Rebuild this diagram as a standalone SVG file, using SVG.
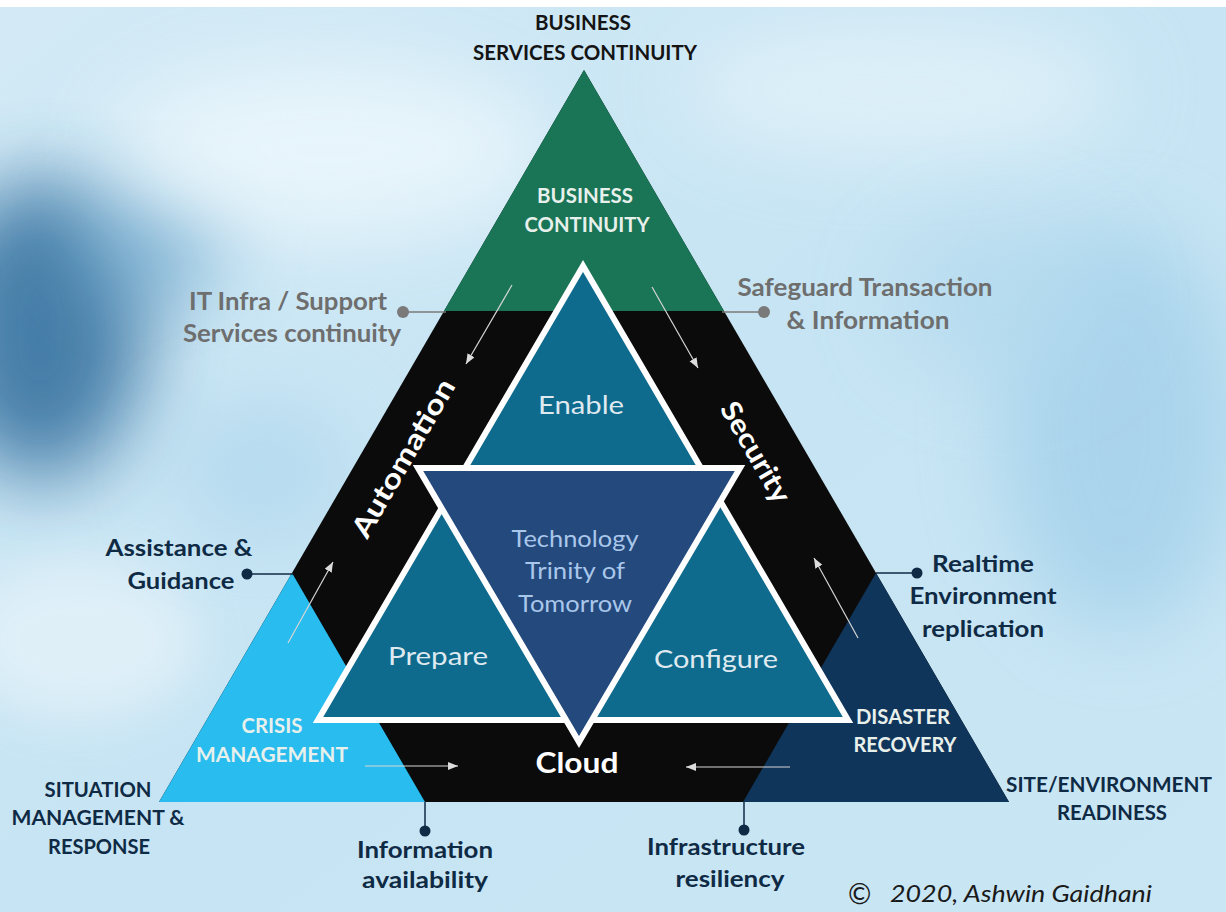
<svg xmlns="http://www.w3.org/2000/svg" width="1226" height="912" viewBox="0 0 1226 912">
  <defs>
    <linearGradient id="bgGrad" x1="0" y1="0" x2="1" y2="1">
      <stop offset="0" stop-color="#d3eaf6"/>
      <stop offset="0.5" stop-color="#c6e4f3"/>
      <stop offset="1" stop-color="#c9e6f4"/>
    </linearGradient>
    <filter id="soft" x="-50%" y="-50%" width="200%" height="200%">
      <feGaussianBlur stdDeviation="40"/>
    </filter>
    <filter id="softer" x="-50%" y="-50%" width="200%" height="200%">
      <feGaussianBlur stdDeviation="25"/>
    </filter>
    <marker id="arrowHead" markerUnits="userSpaceOnUse" markerWidth="12" markerHeight="10" refX="10" refY="4" orient="auto">
      <path d="M0,0 L10,4 L0,8 z" fill="#dcdcdc"/>
    </marker>
    <style>
      text { font-family: Lato, "Liberation Sans", sans-serif; }
      .lbl { font-weight: 700; text-anchor: middle; }
      .dark { fill: #0f2a44; }
      .black { fill: #141414; }
      .gray { fill: #6e6e6e; }
      .onfill { fill: #e8f0ec; }
      .band { fill: #ffffff; font-weight: 700; text-anchor: middle; }
      .inner { fill: #dfe9f0; font-weight: 400; text-anchor: middle; font-size: 25px; }
      .core { fill: #a9c7ea; font-weight: 400; text-anchor: middle; font-size: 23px; }
      .flow { stroke: #d6d6d6; stroke-width: 1.2; fill: none; marker-end: url(#arrowHead); }
      .lead { stroke-width: 1.5; fill: none; }
      .outline { stroke: #ffffff; stroke-width: 6; stroke-linejoin: miter; }
    </style>
  </defs>

  <!-- soft blue backdrop -->
  <g id="background">
    <rect x="0" y="0" width="1226" height="912" fill="url(#bgGrad)"/>
    <ellipse cx="40" cy="330" rx="105" ry="150" fill="#2e6c9b" opacity="0.85" filter="url(#soft)"/>
    <ellipse cx="150" cy="240" rx="80" ry="60" fill="#6ea7cc" opacity="0.7" filter="url(#soft)"/>
    <ellipse cx="330" cy="150" rx="220" ry="90" fill="#eef8fd" opacity="0.8" filter="url(#soft)"/>
    <ellipse cx="900" cy="90" rx="220" ry="70" fill="#e6f4fb" opacity="0.7" filter="url(#soft)"/>
    <ellipse cx="1120" cy="430" rx="120" ry="200" fill="#a3d0ea" opacity="0.8" filter="url(#soft)"/>
    <ellipse cx="1000" cy="300" rx="110" ry="80" fill="#b2d9ee" opacity="0.7" filter="url(#soft)"/>
    <ellipse cx="80" cy="640" rx="120" ry="80" fill="#e4f2f9" opacity="0.8" filter="url(#softer)"/>
    <ellipse cx="260" cy="470" rx="90" ry="70" fill="#a9d3ec" opacity="0.6" filter="url(#soft)"/>
    <rect x="0" y="0" width="1226" height="7" fill="#ffffff"/>
  </g>

  <!-- outer pyramid and its three corner sections -->
  <g id="pyramid">
    <polygon points="584,70 159,802 1009,802" fill="#0b0b0b"/>
  </g>
  <g id="business-continuity">
    <polygon points="584,70 444,311 724,311" fill="#1a7556"/>
    <text class="lbl onfill" x="585" y="203" font-size="20" textLength="96" lengthAdjust="spacingAndGlyphs">BUSINESS</text>
    <text class="lbl onfill" x="587" y="232" font-size="20" textLength="125" lengthAdjust="spacingAndGlyphs">CONTINUITY</text>
  </g>
  <g id="crisis-management">
    <polygon points="159,802 425,802 292,573" fill="#29bcef"/>
    <text class="lbl onfill" x="272" y="733" font-size="21" textLength="61" lengthAdjust="spacingAndGlyphs">CRISIS</text>
    <text class="lbl onfill" x="272" y="762" font-size="21" textLength="152" lengthAdjust="spacingAndGlyphs">MANAGEMENT</text>
  </g>
  <g id="disaster-recovery">
    <polygon points="743,802 1009,802 876,573" fill="#10355a"/>
    <text class="lbl onfill" x="903" y="724" font-size="21" textLength="94" lengthAdjust="spacingAndGlyphs">DISASTER</text>
    <text class="lbl onfill" x="905" y="752" font-size="21" textLength="103" lengthAdjust="spacingAndGlyphs">RECOVERY</text>
  </g>

  <!-- band labels -->
  <g id="automation">
    <text class="band" transform="translate(403,458) rotate(-60)" y="10" font-size="28" textLength="178" lengthAdjust="spacingAndGlyphs">Automation</text>
  </g>
  <g id="security">
    <text class="band" transform="translate(756,452) rotate(60)" y="10" font-size="28" textLength="112" lengthAdjust="spacingAndGlyphs">Security</text>
  </g>
  <g id="cloud">
    <text class="band" x="577" y="773" font-size="29" textLength="83" lengthAdjust="spacingAndGlyphs">Cloud</text>
  </g>

  <!-- inner triangle: Enable / Prepare / Configure -->
  <g id="inner-triangle">
    <polygon class="outline" points="583,266 318,720 848,720" fill="#0f6b8d"/>
  </g>
  <g id="enable">
    <text class="inner" x="581" y="414" textLength="86" lengthAdjust="spacingAndGlyphs">Enable</text>
  </g>
  <g id="prepare">
    <text class="inner" x="438" y="665" textLength="100" lengthAdjust="spacingAndGlyphs">Prepare</text>
  </g>
  <g id="configure">
    <text class="inner" x="716" y="668" textLength="124" lengthAdjust="spacingAndGlyphs">Configure</text>
  </g>
  <g id="technology-trinity">
    <polygon class="outline" points="418,468 740,468 579,742" fill="#24497d"/>
    <text class="core" x="575" y="547" textLength="127" lengthAdjust="spacingAndGlyphs">Technology</text>
    <text class="core" x="575" y="579" textLength="100" lengthAdjust="spacingAndGlyphs">Trinity of</text>
    <text class="core" x="575" y="612" textLength="114" lengthAdjust="spacingAndGlyphs">Tomorrow</text>
  </g>

  <!-- flow arrows and leader lines -->
  <g id="connectors">
    <line class="flow" x1="512" y1="285" x2="466" y2="364"/>
    <line class="flow" x1="652" y1="287" x2="698" y2="368"/>
    <line class="flow" x1="288" y1="643" x2="333" y2="562"/>
    <line class="flow" x1="858" y1="638" x2="814" y2="558"/>
    <line class="flow" x1="365" y1="766" x2="458" y2="766"/>
    <line class="flow" x1="790" y1="767" x2="686" y2="767"/>

    <line class="lead" x1="403" y1="312" x2="446" y2="312" stroke="#7a7a7a"/>
    <circle cx="403" cy="312" r="6" fill="#7a7a7a"/>
    <line class="lead" x1="722" y1="312" x2="764" y2="312" stroke="#7a7a7a"/>
    <circle cx="764" cy="312" r="6" fill="#7a7a7a"/>
    <line class="lead" x1="247" y1="574" x2="293" y2="574" stroke="#0f2a44"/>
    <circle cx="247" cy="574" r="5.5" fill="#0f2a44"/>
    <line class="lead" x1="876" y1="573" x2="917" y2="573" stroke="#0f2a44"/>
    <circle cx="917" cy="573" r="5.5" fill="#0f2a44"/>
    <line class="lead" x1="425" y1="802" x2="425" y2="831" stroke="#0f2a44"/>
    <circle cx="425" cy="831" r="5.5" fill="#0f2a44"/>
    <line class="lead" x1="744" y1="802" x2="744" y2="830" stroke="#0f2a44"/>
    <circle cx="744" cy="830" r="5.5" fill="#0f2a44"/>
  </g>

  <!-- outside labels -->
  <g id="label-business-services">
    <text class="lbl black" x="583" y="30" font-size="21" textLength="96" lengthAdjust="spacingAndGlyphs">BUSINESS</text>
    <text class="lbl black" x="585" y="60" font-size="21" textLength="224" lengthAdjust="spacingAndGlyphs">SERVICES CONTINUITY</text>
  </g>
  <g id="label-it-infra">
    <text class="lbl gray" x="288" y="310" font-size="24" textLength="198" lengthAdjust="spacingAndGlyphs">IT Infra / Support</text>
    <text class="lbl gray" x="292" y="342" font-size="24" textLength="218" lengthAdjust="spacingAndGlyphs">Services continuity</text>
  </g>
  <g id="label-safeguard">
    <text class="lbl gray" x="865" y="296" font-size="24" textLength="255" lengthAdjust="spacingAndGlyphs">Safeguard Transaction</text>
    <text class="lbl gray" x="868" y="329" font-size="24" textLength="163" lengthAdjust="spacingAndGlyphs">&amp; Information</text>
  </g>
  <g id="label-assistance">
    <text class="lbl dark" x="179" y="556" font-size="22" textLength="147" lengthAdjust="spacingAndGlyphs">Assistance &amp;</text>
    <text class="lbl dark" x="181" y="589" font-size="22" textLength="107" lengthAdjust="spacingAndGlyphs">Guidance</text>
  </g>
  <g id="label-realtime">
    <text class="lbl dark" x="983" y="572" font-size="22" textLength="102" lengthAdjust="spacingAndGlyphs">Realtime</text>
    <text class="lbl dark" x="983" y="604" font-size="22" textLength="147" lengthAdjust="spacingAndGlyphs">Environment</text>
    <text class="lbl dark" x="983" y="637" font-size="22" textLength="122" lengthAdjust="spacingAndGlyphs">replication</text>
  </g>
  <g id="label-situation">
    <text class="lbl dark" x="98" y="797" font-size="21" textLength="107" lengthAdjust="spacingAndGlyphs">SITUATION</text>
    <text class="lbl dark" x="98" y="825" font-size="21" textLength="173" lengthAdjust="spacingAndGlyphs">MANAGEMENT &amp;</text>
    <text class="lbl dark" x="99" y="854" font-size="21" textLength="102" lengthAdjust="spacingAndGlyphs">RESPONSE</text>
  </g>
  <g id="label-site-readiness">
    <text class="lbl dark" x="1109" y="792" font-size="21" textLength="206" lengthAdjust="spacingAndGlyphs">SITE/ENVIRONMENT</text>
    <text class="lbl dark" x="1112" y="820" font-size="21" textLength="110" lengthAdjust="spacingAndGlyphs">READINESS</text>
  </g>
  <g id="label-information">
    <text class="lbl dark" x="425" y="858" font-size="23" textLength="136" lengthAdjust="spacingAndGlyphs">Information</text>
    <text class="lbl dark" x="425" y="888" font-size="23" textLength="126" lengthAdjust="spacingAndGlyphs">availability</text>
  </g>
  <g id="label-infrastructure">
    <text class="lbl dark" x="726" y="855" font-size="23" textLength="158" lengthAdjust="spacingAndGlyphs">Infrastructure</text>
    <text class="lbl dark" x="730" y="887" font-size="23" textLength="109" lengthAdjust="spacingAndGlyphs">resiliency</text>
  </g>
  <g id="copyright">
    <text x="848" y="904" font-size="28" fill="#1a1a1a" font-weight="400">©</text>
    <text x="890" y="902" font-size="24" fill="#1a1a1a" font-style="italic" textLength="262" lengthAdjust="spacingAndGlyphs">2020, Ashwin Gaidhani</text>
  </g>
</svg>
